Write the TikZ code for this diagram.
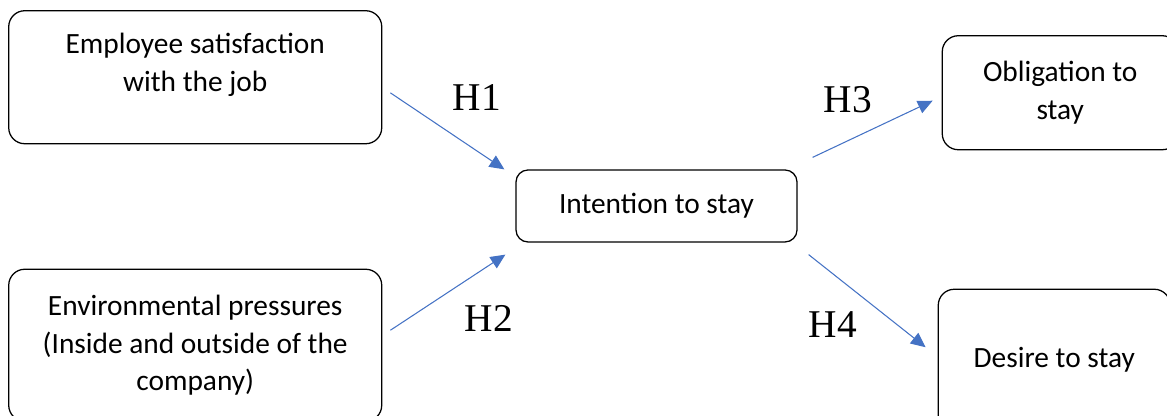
\documentclass[tikz,border=0pt]{standalone}
\usepackage{fontspec}
\setmainfont{Liberation Serif}
\newfontfamily\boxfont{Carlito}
\usepackage{tikz}
\usetikzlibrary{arrows.meta,positioning,calc}
\definecolor{ArrowBlue}{RGB}{68,114,196}

\begin{document}
\begin{tikzpicture}[
    >={Triangle[length=10.5pt,width=9.5pt]},
    box/.style={rectangle, rounded corners=0.4cm, draw=black, line width=0.9pt,
                align=center, inner sep=0pt,
                font=\boxfont\fontsize{20.9}{26.5}\selectfont},
    boxtext/.style={align=center, inner sep=0pt,
                font=\boxfont\fontsize{20.9}{26.5}\selectfont},
    arr/.style={->, color=#1, line width=0.75pt},
    arr/.default=ArrowBlue,
    hyp/.style={font=\fontsize{28}{30}\selectfont, inner sep=0pt},
]

% ── Canvas ──
\useasboundingbox (0,0) rectangle (29.175,10.4);
\clip (0,0) rectangle (29.175,10.4);

% ── Centre: intention ──
\node[box, rounded corners=0.3cm, minimum width=7.025cm, minimum height=1.8cm]
    (intent) at (16.4125,5.25) {Intention to stay};

% ── Antecedents (left) ──
\node[box, minimum width=9.325cm, minimum height=3.325cm,
      above left=0.625cm and 3.325cm of intent] (satisf) {};
\node[boxtext] (satisftxt) at ([yshift=0.31cm]satisf.center)
    {Employee satisfaction\\with the job};

\node[box, minimum width=9.325cm, minimum height=3.8cm,
      below left=0.65cm and 3.325cm of intent] (envpress)
    {Environmental pressures\\(Inside and outside of the\\company)};

% ── Outcomes (right) ──
\node[box, minimum width=5.9cm, minimum height=2.85cm,
      above right=0.475cm and 3.6cm of intent] (oblig) {Obligation to\\stay};
\node[box, minimum width=5.8cm, minimum height=3.55cm,
      below right=1.15cm and 3.5cm of intent] (desire) {Desire to stay};

% ── Hypothesis arrows ──
\draw[arr] ([xshift=0.2cm, yshift=-0.39cm]satisf.east) -- ([xshift=-0.275cm]intent.north west);
\draw[arr] ([xshift=0.2cm, yshift=0.375cm]envpress.east) -- ([xshift=-0.25cm, yshift=-0.3cm]intent.south west);
\draw[arr] ([xshift=0.375cm, yshift=0.3cm]intent.north east) -- ([xshift=-0.225cm, yshift=-0.2cm]oblig.west);
\draw[arr] ([xshift=0.275cm, yshift=-0.3cm]intent.south east) -- ([xshift=-0.3cm, yshift=0.325cm]desire.west);

% ── Hypothesis labels ──
\node[hyp] (h1) at (11.925,7.95) {H1};
\node[hyp] (h2) at (12.225,2.45) {H2};
\node[hyp] (h3) at (21.2,7.9) {H3};
\node[hyp] (h4) at (20.825,2.275) {H4};

\end{tikzpicture}
\end{document}
